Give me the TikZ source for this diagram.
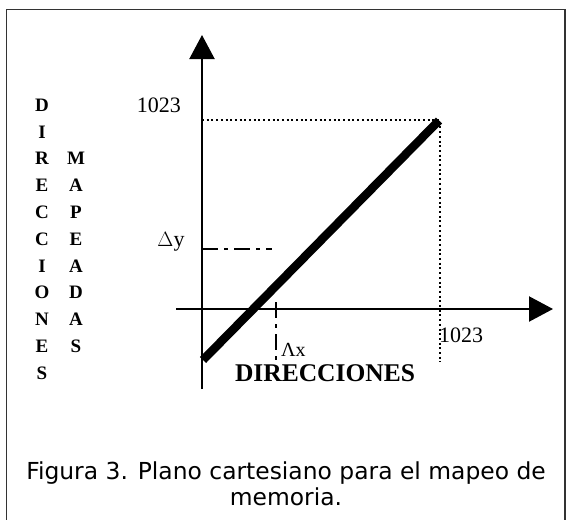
\documentclass[tikz,border=0pt]{standalone}
\usepackage{fontspec}
\setmainfont{Liberation Serif}
\newfontfamily\pieFont{DejaVu Sans}
\usetikzlibrary{positioning, calc, arrows.meta}

\begin{document}
\begin{tikzpicture}[x=1pt, y=-1pt,
    letra/.style={font=\bfseries\fontsize{19}{19}\selectfont, inner sep=0pt},
    etiq/.style={font=\fontsize{22}{22}\selectfont, inner sep=0pt},
    eje/.style={line width=2.2pt, -{Triangle[length=24pt, width=25pt]}},
    guia/.style={line width=2pt, dash pattern=on 2pt off 2.7pt},
    raya/.style={line width=2pt, dash pattern=on 16pt off 6pt on 4pt off 6pt}]
    \useasboundingbox (0,0) rectangle (566,520);
    \draw[line width=1.5pt, black!80] (6.5,9.5) rectangle (565,530);

    % ejes
    \coordinate (ybajo) at (202,389);
    \coordinate (yalto) at (202,35);
    \coordinate (xizq) at (176,309);
    \coordinate (xder) at (553,309);
    \draw[eje] (ybajo) -- (yalto);
    \draw[eje] (xizq) -- (xder);

    % recta de mapeo
    \coordinate (rini) at (203,360);
    \coordinate (rfin) at (439,120.5);
    \coordinate (ymax) at (202,120);
    \coordinate (esq) at (440,120);
    \coordinate (xmax) at (440,362);
    \draw[guia] (ymax) -- (esq) -- (xmax);
    \draw[line width=8.5pt] (rini) -- (rfin);

    % incrementos
    \coordinate (dy0) at (202,249);
    \coordinate (dy1) at (272,249);
    \coordinate (dx0) at (276,302);
    \coordinate (dx1) at (276,362);
    \draw[raya] (dy0) -- (dy1);
    \draw[raya] (dx0) -- (dx1);

    \node[etiq, anchor=east] (ytope) at (181,105) {1023};
    \node[etiq] (dely) at (171,242) {$\Delta$y};
    \node[etiq, anchor=west] (xtope) at (439,335) {1023};
    \node[etiq, anchor=west, font=\fontsize{20}{20}\selectfont] (delx) at (281,350) {Λx};
    \node[inner sep=0pt, font=\bfseries\fontsize{25.5}{25.5}\selectfont] (direc) at (325,373) {DIRECCIONES};

    \foreach \l [count=\i] in {D,I,R,E,C,C,I,O,N,E,S}
        \node[letra] (dir\i) at (42,{105+26.8*(\i-1)}) {\l};
    \foreach \l [count=\i] in {M,A,P,E,A,D,A,S}
        \node[letra] (map\i) at (76,{105+26.8*(\i+1)}) {\l};

    \node[inner sep=0pt, align=center, font=\pieFont\fontsize{23.4}{26.5}\selectfont] (pie) at (286,484)
        {Figura 3. Plano cartesiano para el mapeo de\\memoria.};
\end{tikzpicture}
\end{document}
